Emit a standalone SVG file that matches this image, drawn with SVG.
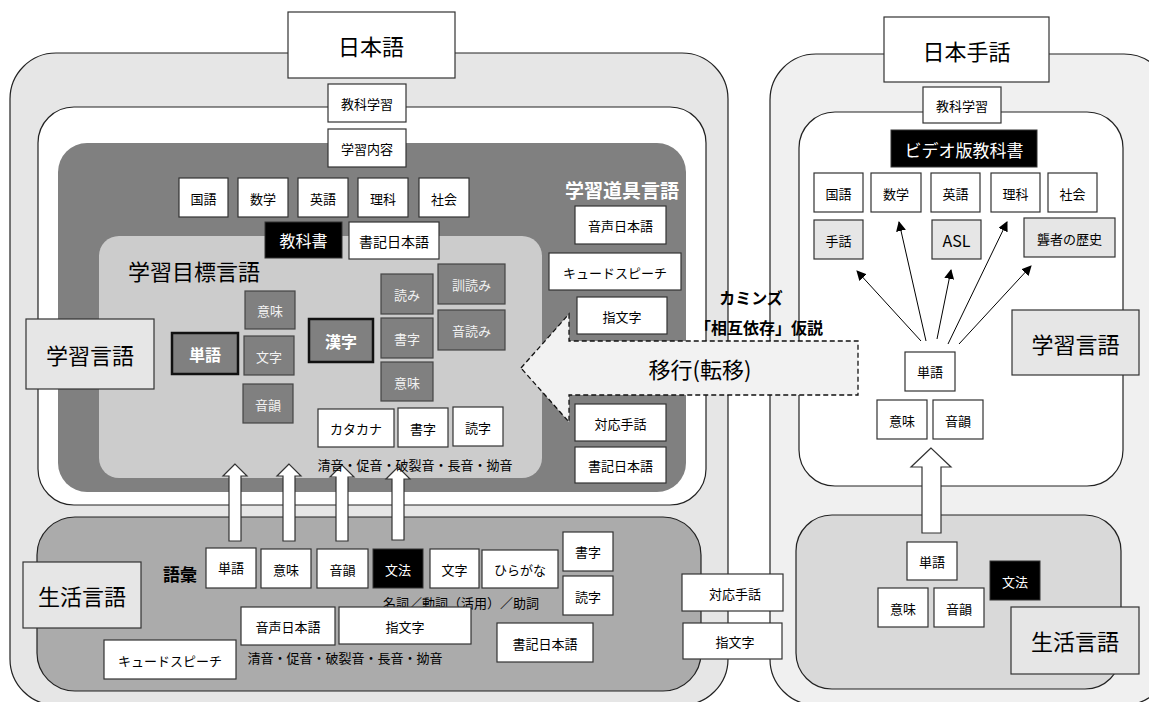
<svg xmlns="http://www.w3.org/2000/svg" width="1149" height="702" viewBox="0 0 1149 702">
<defs>
<style>
text{font-family:"Noto Sans CJK JP","Noto Sans CJK SC",sans-serif;text-anchor:middle;dominant-baseline:central;fill:#000}
.b{fill:#fff;stroke:#333;stroke-width:1.2}
.k{fill:#000;stroke:#333;stroke-width:1}
.g{fill:#808080;stroke:#444;stroke-width:1.2}
.gt{fill:#808080;stroke:#111;stroke-width:2.5}
.lg{fill:#e6e6e6;stroke:#333;stroke-width:1.2}
.t13{font-size:13px}
.t14{font-size:14px}
.t16{font-size:16px}
.t22{font-size:22px}
.w{fill:#fff}
.lw{fill:#f2f2f2}
.bd{font-weight:bold}
.ar{stroke:#000;stroke-width:1;fill:none;marker-end:url(#ah)}
.blk{fill:#fff;stroke:#333;stroke-width:1.2}
</style>
<marker id="ah" viewBox="0 0 10 10" refX="9" refY="5" markerWidth="10" markerHeight="10" markerUnits="userSpaceOnUse" orient="auto">
<path d="M0,0 L10,5 L0,10 z" fill="#000"/>
</marker>
</defs>

<!-- containers -->
<g id="containers">
<rect x="10" y="53" width="718" height="652" rx="46" fill="#e6e6e6" stroke="#222" stroke-width="1.2"/>
<rect x="38" y="107" width="668" height="398" rx="36" fill="#fff" stroke="#222" stroke-width="1.2"/>
<rect x="58" y="143" width="628" height="349" rx="29" fill="#808080"/>
<rect x="99" y="236" width="443" height="242" rx="20" fill="#cccccc"/>
<rect x="37" y="517" width="664" height="174" rx="38" fill="#ababab" stroke="#222" stroke-width="1.2"/>
<rect x="770" y="54" width="400" height="651" rx="46" fill="#f0f0f0" stroke="#222" stroke-width="1.2"/>
<rect x="799" y="112" width="324" height="374" rx="36" fill="#fff" stroke="#222" stroke-width="1.2"/>
<rect x="796" y="515" width="325" height="174" rx="36" fill="#d9d9d9" stroke="#222" stroke-width="1.2"/>
</g>

<!-- connectors -->
<g id="connectors">
<polygon class="blk" points="235,464 223,476 229,476 229,541 241,541 241,476 247,476"/>
<polygon class="blk" points="289,464 277,476 283,476 283,541 295,541 295,476 301,476"/>
<polygon class="blk" points="342,465 330,477 336,477 336,541 348,541 348,477 354,477"/>
<polygon class="blk" points="398,467 386,479 392,479 392,540 404,540 404,479 410,479"/>
<polygon class="blk" points="931,448 911,467 922,467 922,533 941,533 941,467 951,467"/>
<line class="ar" x1="921" y1="341" x2="857" y2="271"/>
<line class="ar" x1="926" y1="341" x2="899" y2="222"/>
<line class="ar" x1="937" y1="339" x2="951" y2="270"/>
<line class="ar" x1="948" y1="344" x2="1007" y2="222"/>
<line class="ar" x1="959" y1="344" x2="1031" y2="266"/>
</g>

<!-- left side nodes -->
<g id="n-nihongo"><rect class="b" x="288" y="12" width="167" height="66"/><text class="t22" x="371" y="45">日本語</text></g>
<g id="n-kyoka1"><rect class="b" x="328" y="84" width="78" height="38"/><text class="t13" x="367" y="103">教科学習</text></g>
<g id="n-naiyo"><rect class="b" x="328" y="129" width="78" height="38"/><text class="t13" x="367" y="148">学習内容</text></g>
<g id="n-kokugo"><rect class="b" x="179" y="178" width="49" height="39"/><text class="t13" x="203.5" y="198">国語</text></g>
<g id="n-sugaku"><rect class="b" x="238" y="178" width="50" height="39"/><text class="t13" x="263" y="198">数学</text></g>
<g id="n-eigo"><rect class="b" x="298" y="178" width="50" height="39"/><text class="t13" x="323" y="198">英語</text></g>
<g id="n-rika"><rect class="b" x="358" y="178" width="50" height="39"/><text class="t13" x="383" y="198">理科</text></g>
<g id="n-shakai"><rect class="b" x="419" y="178" width="50" height="39"/><text class="t13" x="444" y="198">社会</text></g>
<g id="n-kyokasho"><rect class="k" x="265" y="222" width="77" height="36"/><text class="t16 w" x="303.5" y="240">教科書</text></g>
<g id="n-shoki1"><rect class="b" x="349" y="222" width="90" height="37"/><text class="t14" x="394" y="241">書記日本語</text></g>
<g id="t-mokuhyo"><text class="t22" x="194" y="270">学習目標言語</text></g>
<g id="n-gakushu-l"><rect class="lg" x="26" y="319" width="128" height="70"/><text class="t22" x="90" y="354">学習言語</text></g>
<g id="n-tango1"><rect class="gt" x="172" y="333" width="66" height="41"/><text class="t16 w bd" x="205" y="354">単語</text></g>
<g id="n-imi1"><rect class="g" x="245" y="291" width="50" height="38"/><text class="t13 lw" x="270" y="310">意味</text></g>
<g id="n-moji1"><rect class="g" x="244" y="336" width="50" height="39"/><text class="t13 lw" x="269" y="356">文字</text></g>
<g id="n-onin1"><rect class="g" x="243" y="384" width="50" height="39"/><text class="t13 lw" x="268" y="404">音韻</text></g>
<g id="n-kanji"><rect class="gt" x="309" y="319" width="64" height="43"/><text class="t16 w bd" x="341" y="341">漢字</text></g>
<g id="n-yomi"><rect class="g" x="381" y="274" width="52" height="40"/><text class="t13 lw" x="407" y="294">読み</text></g>
<g id="n-shoji1"><rect class="g" x="381" y="318" width="52" height="40"/><text class="t13 lw" x="407" y="338">書字</text></g>
<g id="n-imi2"><rect class="g" x="381" y="362" width="52" height="39"/><text class="t13 lw" x="407" y="382">意味</text></g>
<g id="n-kunyomi"><rect class="g" x="438" y="264" width="67" height="40"/><text class="t13 lw" x="471.5" y="284">訓読み</text></g>
<g id="n-onyomi"><rect class="g" x="438" y="310" width="67" height="40"/><text class="t13 lw" x="471.5" y="330">音読み</text></g>
<g id="n-katakana"><rect class="b" x="318" y="409" width="76" height="38"/><text class="t13" x="356" y="428">カタカナ</text></g>
<g id="n-shoji2"><rect class="b" x="398" y="408" width="50" height="39"/><text class="t13" x="423" y="428">書字</text></g>
<g id="n-dokuji1"><rect class="b" x="453" y="407" width="50" height="39"/><text class="t13" x="478" y="427">読字</text></g>
<g id="t-seion1"><text class="t13" x="415" y="464">清音・促音・破裂音・長音・拗音</text></g>
<g id="t-dogu"><text class="w bd" x="622" y="189" style="font-size:19px">学習道具言語</text></g>
<g id="n-onsei1"><rect class="b" x="575" y="206" width="91" height="38"/><text class="t13" x="620.5" y="225">音声日本語</text></g>
<g id="n-cued1"><rect class="b" x="549" y="253" width="132" height="37"/><text class="t13" x="615" y="272">キュードスピーチ</text></g>
<g id="n-yubi1"><rect class="b" x="577" y="297" width="90" height="37"/><text class="t13" x="622" y="316">指文字</text></g>
<g id="n-taio1"><rect class="b" x="575" y="404" width="91" height="37"/><text class="t13" x="620.5" y="423">対応手話</text></g>
<g id="n-shoki2"><rect class="b" x="575" y="447" width="91" height="36"/><text class="t13" x="620.5" y="465">書記日本語</text></g>

<!-- transfer arrow -->
<g id="n-iko">
<polygon points="521,368 569,314 569,341 858,341 858,395 569,395 569,422" fill="#f2f2f2" stroke="#111" stroke-width="1.3" stroke-dasharray="5,3"/>
<text class="t22" x="700" y="368">移行(転移)</text>
</g>
<g id="t-cummins"><text class="t16 bd" x="751" y="297">カミンズ</text><text class="t16 bd" x="759" y="327">「相互依存」仮説</text></g>

<!-- bottom left -->
<g id="n-seikatsu-l"><rect class="lg" x="23" y="562" width="118" height="66"/><text class="t22" x="82" y="595">生活言語</text></g>
<g id="t-goi"><text class="bd" x="180" y="573" style="font-size:17px">語彙</text></g>
<g id="n-tango2"><rect class="b" x="206" y="548" width="50" height="40"/><text class="t13" x="231" y="567">単語</text></g>
<g id="n-imi3"><rect class="b" x="261" y="549" width="50" height="39"/><text class="t13" x="286" y="569">意味</text></g>
<g id="n-onin2"><rect class="b" x="317" y="549" width="51" height="39"/><text class="t13" x="342.5" y="569">音韻</text></g>
<g id="n-bunpo1"><rect class="k" x="373" y="549" width="50" height="39"/><text class="t13 w" x="398" y="569">文法</text></g>
<g id="n-moji2"><rect class="b" x="430" y="549" width="49" height="39"/><text class="t13" x="454.5" y="569">文字</text></g>
<g id="n-hiragana"><rect class="b" x="482" y="550" width="76" height="38"/><text class="t13" x="520" y="569">ひらがな</text></g>
<g id="n-shoji3"><rect class="b" x="563" y="532" width="50" height="39"/><text class="t13" x="588" y="551">書字</text></g>
<g id="n-dokuji2"><rect class="b" x="563" y="576" width="50" height="39"/><text class="t13" x="588" y="596">読字</text></g>
<g id="t-hinshi"><text class="t13" x="461" y="602">名詞／動詞（活用）／助詞</text></g>
<g id="n-onsei2"><rect class="b" x="241" y="607" width="94" height="38"/><text class="t13" x="288" y="626">音声日本語</text></g>
<g id="n-yubi2"><rect class="b" x="339" y="607" width="132" height="37"/><text class="t13" x="405" y="626">指文字</text></g>
<g id="t-seion2"><text class="t13" x="345" y="657">清音・促音・破裂音・長音・拗音</text></g>
<g id="n-cued2"><rect class="b" x="104" y="640" width="132" height="39"/><text class="t13" x="170" y="660">キュードスピーチ</text></g>
<g id="n-shoki3"><rect class="b" x="497" y="623" width="96" height="39"/><text class="t13" x="545" y="643">書記日本語</text></g>

<!-- middle -->
<g id="n-taio2"><rect class="b" x="682" y="574" width="101" height="37"/><text class="t13" x="735" y="593">対応手話</text></g>
<g id="n-yubi3"><rect class="b" x="683" y="623" width="99" height="36"/><text class="t13" x="735" y="641">指文字</text></g>

<!-- right side -->
<g id="n-jsl"><rect class="b" x="884" y="17" width="165" height="65"/><text class="t22" x="966.5" y="50">日本手話</text></g>
<g id="n-kyoka2"><rect class="b" x="923" y="87" width="78" height="36"/><text class="t13" x="962" y="105">教科学習</text></g>
<g id="n-video"><rect class="k" x="891" y="130" width="146" height="37"/><text class="w" x="964" y="149" style="font-size:17px">ビデオ版教科書</text></g>
<g id="n-kokugo2"><rect class="b" x="814" y="173" width="49" height="39"/><text class="t13" x="838.5" y="193">国語</text></g>
<g id="n-sugaku2"><rect class="b" x="871" y="173" width="50" height="39"/><text class="t13" x="896" y="193">数学</text></g>
<g id="n-eigo2"><rect class="b" x="931" y="173" width="49" height="39"/><text class="t13" x="955.5" y="193">英語</text></g>
<g id="n-rika2"><rect class="b" x="991" y="173" width="49" height="39"/><text class="t13" x="1015.5" y="193">理科</text></g>
<g id="n-shakai2"><rect class="b" x="1048" y="173" width="49" height="39"/><text class="t13" x="1072.5" y="193">社会</text></g>
<g id="n-shuwa"><rect class="lg" x="814" y="220" width="49" height="39"/><text class="t13" x="838.5" y="240">手話</text></g>
<g id="n-asl"><rect class="lg" x="932" y="220" width="49" height="39"/><text class="t16" x="956.5" y="240">ASL</text></g>
<g id="n-rekishi"><rect class="lg" x="1024" y="218" width="91" height="39"/><text class="t13" x="1069.5" y="238">聾者の歴史</text></g>
<g id="n-tango3"><rect class="b" x="905" y="352" width="50" height="39"/><text class="t13" x="930" y="371">単語</text></g>
<g id="n-imi4"><rect class="b" x="877" y="400" width="50" height="39"/><text class="t13" x="902" y="420">意味</text></g>
<g id="n-onin3"><rect class="b" x="933" y="400" width="50" height="39"/><text class="t13" x="958" y="420">音韻</text></g>
<g id="n-gakushu-r"><rect class="lg" x="1012" y="310" width="127" height="65"/><text class="t22" x="1075.5" y="343">学習言語</text></g>
<g id="n-tango4"><rect class="b" x="907" y="542" width="50" height="38"/><text class="t13" x="932" y="561">単語</text></g>
<g id="n-imi5"><rect class="b" x="878" y="588" width="50" height="39"/><text class="t13" x="903" y="608">意味</text></g>
<g id="n-onin4"><rect class="b" x="934" y="588" width="50" height="39"/><text class="t13" x="959" y="608">音韻</text></g>
<g id="n-bunpo2"><rect class="k" x="990" y="561" width="50" height="39"/><text class="t13 w" x="1015" y="581">文法</text></g>
<g id="n-seikatsu-r"><rect class="lg" x="1011" y="607" width="128" height="67"/><text class="t22" x="1075" y="640">生活言語</text></g>
</svg>
